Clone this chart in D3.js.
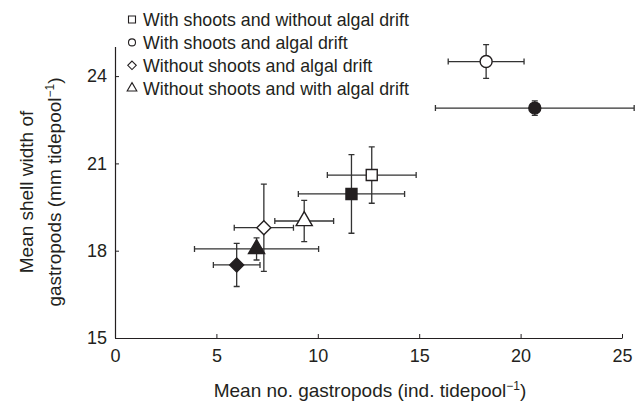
<!DOCTYPE html>
<html>
<head>
<meta charset="utf-8">
<script src="https://cdn.jsdelivr.net/npm/d3@7"></script>
<style>
  body { margin: 0; background: #fff; }
  svg { display: block; font-family: "Liberation Sans", Arial, sans-serif; }
</style>
</head>
<body>
<svg width="640" height="403"></svg>
<script>
(function (d3) {
  'use strict';

  // groups
  const groups = ['sq', 'sqF', 'ci', 'ciF', 'di', 'diF', 'tr', 'trF'];
  const shapes = ['square', 'square', 'circle', 'circle', 'diamond', 'diamond', 'triangle', 'triangle'];
  const filled = [false, true, false, true, false, true, false, true];
  const meanX = [12.66, 11.66, 18.3, 20.7, 7.34, 6.0, 9.33, 6.98];
  const errX  = [2.19, 2.62, 1.87, 4.9, 1.46, 1.15, 1.45, 3.06];
  const meanY = [20.6, 19.95, 24.5, 22.9, 18.79, 17.51, 19.02, 18.06];
  const errY  = [0.97, 1.35, 0.58, 0.25, 1.5, 0.74, 0.71, 0.38];

  const legendShapes = ['square', 'circle', 'diamond', 'triangle'];
  const legendLabels = [
    'With shoots and without algal drift',
    'With shoots and algal drift',
    'Without shoots and algal drift',
    'Without shoots and with algal drift'
  ];

  const xTicks = [0, 5, 10, 15, 20, 25];
  const yTicks = [15, 18, 21, 24];

  const svg = d3.select('svg');
  const ink = '#231f20';

  const x = d3.scaleLinear().domain([0, 25]).range([115, 622]);
  const y = d3.scaleLinear().domain([15, 25]).range([338, 47]);

  // axes, ticks pointing inward
  const xAxis = svg.append('g')
    .attr('transform', `translate(0,${y(15)})`)
    .call(d3.axisBottom(x).tickValues(xTicks).tickSizeInner(-4).tickSizeOuter(0).tickPadding(11));
  const yAxis = svg.append('g')
    .attr('transform', `translate(${x(0)},0)`)
    .call(d3.axisLeft(y).tickValues(yTicks).tickSizeInner(-4).tickSizeOuter(0).tickPadding(8));

  [xAxis, yAxis].forEach(a => {
    a.select('.domain').attr('stroke', ink).attr('stroke-width', 1.2);
    a.selectAll('.tick line').attr('stroke', ink).attr('stroke-width', 1);
    a.selectAll('.tick text')
      .attr('fill', ink)
      .attr('font-size', 18)
      .attr('font-family', '"Liberation Sans", Arial, sans-serif');
  });
  // y axis runs up to 25 without a label
  yAxis.select('.domain').attr('d', `M0.5,${y(15)}V${y(25)}`);

  // error bars
  const cap = 3;
  const bars = svg.append('g')
    .attr('stroke', '#333')
    .attr('stroke-width', 1.3)
    .attr('fill', 'none');

  groups.forEach((g, i) => {
    const cx = x(meanX[i]), cy = y(meanY[i]);
    const x0 = x(meanX[i] - errX[i]), x1 = x(meanX[i] + errX[i]);
    const y0 = y(meanY[i] - errY[i]), y1 = y(meanY[i] + errY[i]);
    bars.append('path')
      .attr('d', `M${x0},${cy}H${x1}M${x0},${cy - cap}V${cy + cap}M${x1},${cy - cap}V${cy + cap}` +
                 `M${cx},${y0}V${y1}M${cx - cap},${y0}H${cx + cap}M${cx - cap},${y1}H${cx + cap}`);
  });

  function markerPath(shape, s) {
    if (shape === 'square') return d3.symbol(d3.symbolSquare, s * s)();
    if (shape === 'circle') return d3.symbol(d3.symbolCircle, Math.PI * (s / 2) * (s / 2))();
    if (shape === 'diamond') {
      const r = s / 2;
      return `M0,${-r}L${r},0L0,${r}L${-r},0Z`;
    }
    return d3.symbol(d3.symbolTriangle, s * s * 0.5)();
  }

  const sizes = { square: 11, circle: 12, diamond: 14, triangle: 15 };

  svg.append('g').selectAll('path')
    .data(groups)
    .join('path')
      .attr('transform', (d, i) => `translate(${x(meanX[i])},${y(meanY[i])})`)
      .attr('d', (d, i) => markerPath(shapes[i], sizes[shapes[i]]))
      .attr('fill', (d, i) => filled[i] ? ink : '#fff')
      .attr('stroke', ink)
      .attr('stroke-width', 1.4);

  // legend
  const legend = svg.append('g').attr('transform', 'translate(132,19.5)');
  const lsizes = { square: 7, circle: 7, diamond: 8.5, triangle: 9 };
  legendLabels.forEach((t, i) => {
    const row = legend.append('g').attr('transform', `translate(0,${i * 22.9})`);
    row.append('path')
      .attr('d', markerPath(legendShapes[i], lsizes[legendShapes[i]]))
      .attr('fill', '#fff')
      .attr('stroke', ink)
      .attr('stroke-width', 1.1);
    row.append('text')
      .attr('x', 11)
      .attr('dy', '0.36em')
      .attr('font-size', 17.8)
      .attr('fill', ink)
      .text(t);
  });

  // axis titles
  const xt = svg.append('text')
    .attr('x', 370)
    .attr('y', 397)
    .attr('text-anchor', 'middle')
    .attr('font-size', 19)
    .attr('fill', ink)
    .text('Mean no. gastropods (ind. tidepool');
  xt.append('tspan').attr('font-size', 12).attr('dy', -7).text('\u22121');
  xt.append('tspan').attr('dy', 7).text(')');

  const yt = svg.append('text')
    .attr('transform', `translate(0,192) rotate(-90)`)
    .attr('text-anchor', 'middle')
    .attr('font-size', 19)
    .attr('fill', ink);
  yt.append('tspan').attr('x', 0).attr('y', 33).text('Mean shell width of');
  yt.append('tspan').attr('x', 0).attr('y', 61).text('gastropods (mm tidepool');
  yt.append('tspan').attr('font-size', 12).attr('dy', -7).text('\u22121');
  yt.append('tspan').attr('dy', 7).text(')');

}(d3));
</script>
</body>
</html>
